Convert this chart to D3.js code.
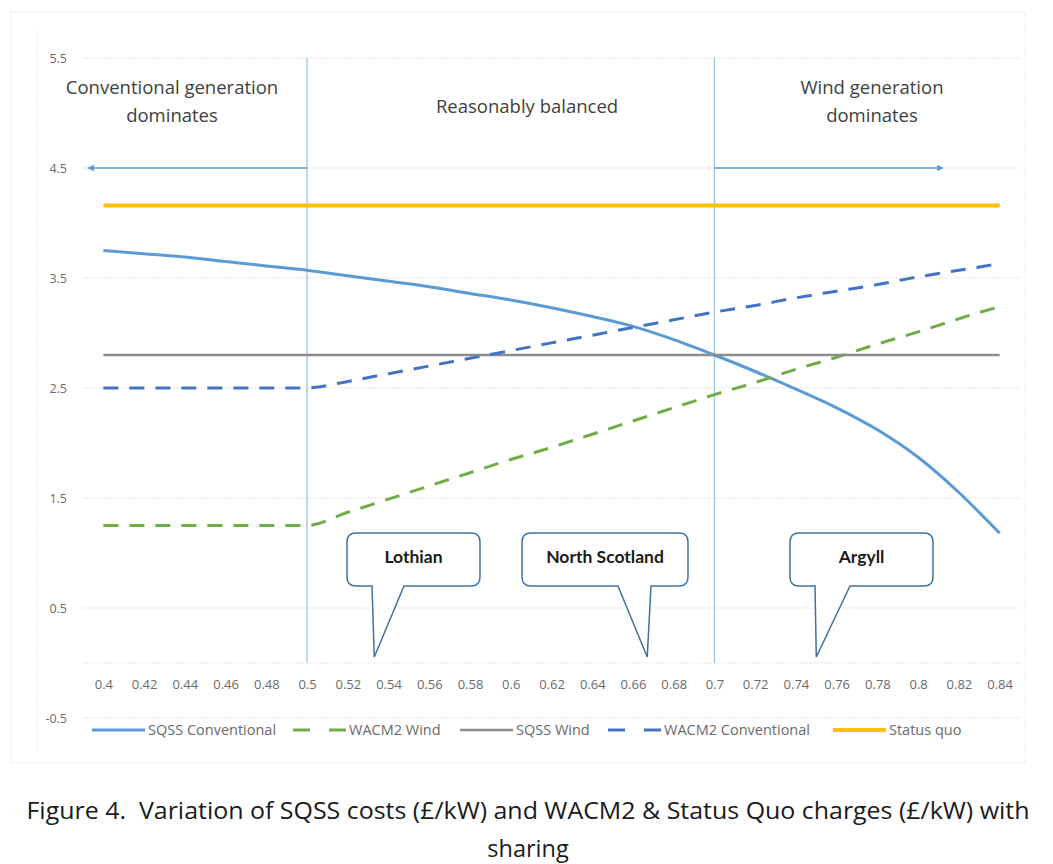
<!DOCTYPE html>
<html><head><meta charset="utf-8">
<script src="https://cdn.jsdelivr.net/npm/d3@7"></script>
<style>body{margin:0;background:#fff}svg{display:block}</style>
</head><body>
<svg id="c" width="1053" height="864"></svg>
<script>
const categories = [0.4,0.42,0.44,0.46,0.48,0.5,0.52,0.54,0.56,0.58,0.6,0.62,0.64,0.66,0.68,0.7,0.72,0.74,0.76,0.78,0.8,0.82,0.84];
const categoryLabels = ["0.4","0.42","0.44","0.46","0.48","0.5","0.52","0.54","0.56","0.58","0.6","0.62","0.64","0.66","0.68","0.7","0.72","0.74","0.76","0.78","0.8","0.82","0.84"];
const sqssConventional = [3.75,3.72,3.69,3.65,3.61,3.57,3.52,3.47,3.42,3.36,3.30,3.23,3.15,3.06,2.94,2.80,2.65,2.49,2.32,2.12,1.87,1.55,1.18];
const wacm2Wind = [1.25,1.25,1.25,1.25,1.25,1.25,1.37,1.49,1.61,1.73,1.85,1.96,2.08,2.20,2.32,2.44,2.55,2.67,2.78,2.90,3.01,3.13,3.24];
const sqssWind = [2.8,2.8,2.8,2.8,2.8,2.8,2.8,2.8,2.8,2.8,2.8,2.8,2.8,2.8,2.8,2.8,2.8,2.8,2.8,2.8,2.8,2.8,2.8];
const wacm2Conventional = [2.5,2.5,2.5,2.5,2.5,2.5,2.56,2.63,2.70,2.77,2.84,2.91,2.98,3.05,3.12,3.19,3.25,3.32,3.38,3.44,3.51,3.57,3.63];
const statusQuo = [4.16,4.16,4.16,4.16,4.16,4.16,4.16,4.16,4.16,4.16,4.16,4.16,4.16,4.16,4.16,4.16,4.16,4.16,4.16,4.16,4.16,4.16,4.16];
const yTicks = [-0.5,0.5,1.5,2.5,3.5,4.5,5.5];
const yTickLabels = ["-0.5","0.5","1.5","2.5","3.5","4.5","5.5"];
const regionBounds = [0.5, 0.7];
const regionLabels = [["Conventional generation","dominates"],["Reasonably balanced"],["Wind generation","dominates"]];
const callouts = [{label:"Lothian", at:0.533},{label:"North Scotland", at:0.667},{label:"Argyll", at:0.75}];
const captionLines = ["Figure 4.  Variation of SQSS costs (£/kW) and WACM2 & Status Quo charges (£/kW) with","sharing"];

const series = [
  {name:"SQSS Conventional", values:sqssConventional, color:"#5b9bd5", dash:null, w:3},
  {name:"WACM2 Wind", values:wacm2Wind, color:"#70ad47", dash:"15,11", w:3},
  {name:"SQSS Wind", values:sqssWind, color:"#8c8c8c", dash:null, w:2.5},
  {name:"WACM2 Conventional", values:wacm2Conventional, color:"#4472c4", dash:"15,11", w:3},
  {name:"Status quo", values:statusQuo, color:"#ffc000", dash:null, w:4}
];

const svg = d3.select("#c");
const font = "'Open Sans', Lato, sans-serif";
const L = 83, R = 1020, T = 58, B = 718;

// chart frame
svg.append("rect").attr("x",11).attr("y",12).attr("width",1014).attr("height",751)
  .attr("fill","none").attr("stroke","#ece4ec").attr("stroke-dasharray","2,1");
svg.append("line").attr("x1",37).attr("x2",37).attr("y1",30).attr("y2",750)
  .attr("stroke","#f0eaf0").attr("stroke-dasharray","2,1");

const x = d3.scalePoint().domain(categories).range([L,R]).padding(0.5);
const xl = d3.scaleLinear().domain([categories[0],categories[categories.length-1]]).range([x(categories[0]),x(categories[categories.length-1])]);
const y = d3.scaleLinear().domain([-0.5,5.5]).range([B,T]);

// gridlines
svg.append("g").selectAll("line").data(yTicks.concat([0])).join("line")
  .attr("x1",L).attr("x2",R).attr("y1",d=>y(d)).attr("y2",d=>y(d))
  .attr("stroke","#e9dfe9").attr("stroke-width",1).attr("stroke-dasharray","2,1");

// y axis labels
const yAxis = d3.axisLeft(y).tickValues(yTicks).tickFormat((d,i)=>yTickLabels[i]).tickSize(0).tickPadding(0);
const ya = svg.append("g").attr("transform",`translate(67,0)`).call(yAxis);
ya.select(".domain").remove();
ya.selectAll("text").attr("font-family",font).attr("font-size",12.5).attr("fill","#6a6a6a");

// x axis labels
const xAxis = d3.axisBottom(x).tickFormat((d,i)=>categoryLabels[i]).tickSize(0).tickPadding(0);
const xa = svg.append("g").attr("transform",`translate(0,${y(0)+17})`).call(xAxis);
xa.select(".domain").remove();
xa.selectAll("text").attr("font-family",font).attr("font-size",13).attr("fill","#6a6a6a");

// region boundaries
svg.append("g").selectAll("line").data(regionBounds).join("line")
  .attr("x1",d=>x(d)).attr("x2",d=>x(d)).attr("y1",y(5.5)).attr("y2",y(0))
  .attr("stroke","#9dc3e6").attr("stroke-width",1.3);

// arrows
const defs = svg.append("defs");
defs.append("marker").attr("id","ah").attr("viewBox","0 0 10 10").attr("refX",9).attr("refY",5)
  .attr("markerWidth",4.5).attr("markerHeight",4.5).attr("orient","auto-start-reverse")
  .append("path").attr("d","M0,0L10,5L0,10z").attr("fill","#5b9bd5");
svg.append("line").attr("x1",x(0.5)).attr("x2",88).attr("y1",y(4.5)).attr("y2",y(4.5))
  .attr("stroke","#5b9bd5").attr("stroke-width",1.5).attr("marker-end","url(#ah)");
svg.append("line").attr("x1",x(0.7)).attr("x2",943).attr("y1",y(4.5)).attr("y2",y(4.5))
  .attr("stroke","#5b9bd5").attr("stroke-width",1.5).attr("marker-end","url(#ah)");

// region labels
const regionCenters = [172, 527, 872];
regionLabels.forEach((lines,i)=>{
  lines.forEach((t,j)=>{
    svg.append("text").attr("x",regionCenters[i]).attr("y",(lines.length===1?113:94)+j*28)
      .attr("text-anchor","middle").attr("font-family",font).attr("font-size",18.5)
      .attr("fill","#404040").text(t);
  });
});

// series lines
const line = d3.line().x((d,i)=>x(categories[i])).y(d=>y(d)).curve(d3.curveMonotoneX);
svg.append("g").selectAll("path").data(series).join("path")
  .attr("d",d=>line(d.values)).attr("fill","none")
  .attr("stroke",d=>d.color).attr("stroke-width",d=>d.w)
  .attr("stroke-dasharray",d=>d.dash);

// callouts
const boxes = [{x0:347,x1:480,b0:372,b1:404},{x0:522,x1:688,b0:618,b1:651},{x0:790,x1:933,b0:815,b1:850}];
const bt = 533, bb = 586, r = 9;
callouts.forEach((c,i)=>{
  const b = boxes[i];
  const tx = xl(c.at), ty = y(0)-6;
  const p = d3.path();
  p.moveTo(b.x0+r,bt); p.lineTo(b.x1-r,bt); p.quadraticCurveTo(b.x1,bt,b.x1,bt+r);
  p.lineTo(b.x1,bb-r); p.quadraticCurveTo(b.x1,bb,b.x1-r,bb);
  p.lineTo(b.b1,bb); p.lineTo(tx,ty); p.lineTo(b.b0,bb);
  p.lineTo(b.x0+r,bb); p.quadraticCurveTo(b.x0,bb,b.x0,bb-r);
  p.lineTo(b.x0,bt+r); p.quadraticCurveTo(b.x0,bt,b.x0+r,bt); p.closePath();
  svg.append("path").attr("d",p.toString()).attr("fill","#fff").attr("stroke","#41719c").attr("stroke-width",1.5);
  svg.append("text").attr("x",(b.x0+b.x1)/2).attr("y",563).attr("text-anchor","middle")
    .attr("font-family","Lato, sans-serif").attr("font-size",17.5).attr("font-weight","bold")
    .attr("fill","#1a1a1a").text(c.label);
});

// legend
const legX = [92, 293, 460, 608, 833];
const lg = svg.append("g");
series.forEach((s,i)=>{
  const g = lg.append("g").attr("transform",`translate(${legX[i]},730)`);
  if (s.dash) {
    g.append("line").attr("x1",0).attr("x2",17).attr("y1",0).attr("y2",0).attr("stroke",s.color).attr("stroke-width",3);
    g.append("line").attr("x1",36).attr("x2",53).attr("y1",0).attr("y2",0).attr("stroke",s.color).attr("stroke-width",3);
  } else {
    g.append("line").attr("x1",0).attr("x2",53).attr("y1",0).attr("y2",0).attr("stroke",s.color).attr("stroke-width",s.w);
  }
  g.append("text").attr("x",56).attr("y",5).attr("font-family",font).attr("font-size",14.5)
    .attr("fill","#6a6a6a").text(s.name);
});

// caption
captionLines.forEach((t,i)=>{
  const tt = svg.append("text").attr("x",528).attr("y",819+i*38).attr("text-anchor","middle")
    .attr("font-family","'Open Sans', Lato, sans-serif").attr("font-size",23.5).attr("fill","#1a1a1a")
    .style("white-space","pre").text(t);
  if (i===0) tt.attr("textLength",1003).attr("lengthAdjust","spacingAndGlyphs");
});
</script>
</body></html>
